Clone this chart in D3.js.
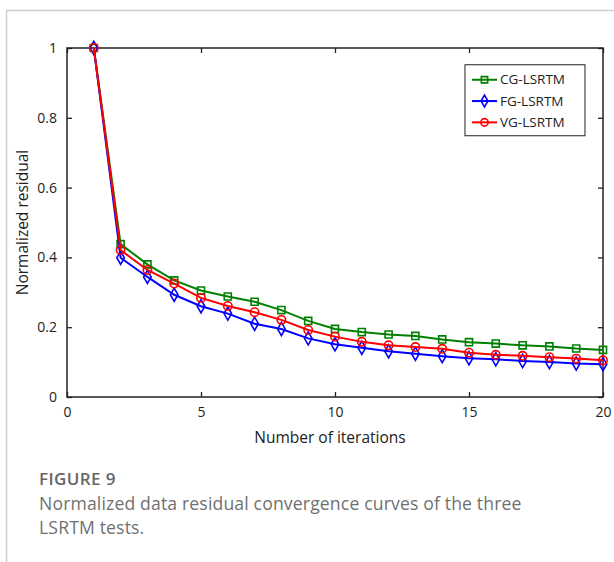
<!DOCTYPE html>
<html>
<head>
<meta charset="utf-8">
<script src="https://cdn.jsdelivr.net/npm/d3@7"></script>
<style>
    body { margin: 0; background: #fff; }
    #chart { width: 614px; height: 562px; }
</style>
</head>
<body>
<div id="chart"></div>
<script>
    // values
    const iterations = d3.range(1, 21);
    const cgValues = [1.0, 0.438, 0.380, 0.334, 0.305, 0.288, 0.273, 0.249, 0.218, 0.195,
        0.186, 0.179, 0.175, 0.165, 0.157, 0.153, 0.148, 0.145, 0.139, 0.135];
    const fgValues = [1.0, 0.399, 0.344, 0.293, 0.260, 0.239, 0.210, 0.195, 0.168, 0.151,
        0.141, 0.131, 0.124, 0.117, 0.111, 0.108, 0.103, 0.100, 0.096, 0.094];
    const vgValues = [1.0, 0.421, 0.364, 0.325, 0.284, 0.261, 0.243, 0.221, 0.192, 0.173,
        0.158, 0.148, 0.143, 0.138, 0.127, 0.121, 0.118, 0.114, 0.110, 0.105];
    const seriesNames = ['CG-LSRTM', 'FG-LSRTM', 'VG-LSRTM'];
    const xTicks = [0, 5, 10, 15, 20];
    const yTicks = [0, 0.2, 0.4, 0.6, 0.8, 1];

    const series = [
        {name: seriesNames[0], values: cgValues, color: '#008000', symbol: d3.symbolSquare, size: 50},
        {name: seriesNames[1], values: fgValues, color: '#0000ff', symbol: d3.symbolDiamond, size: 50},
        {name: seriesNames[2], values: vgValues, color: '#ff0000', symbol: d3.symbolCircle, size: 55}
    ];

    let svgWidth = 614,
        svgHeight = 562,
        margin = {top: 48, right: 11, bottom: 165, left: 67},
        width = svgWidth - margin.left - margin.right,
        height = svgHeight - margin.top - margin.bottom;

    let svg = d3.select('#chart')
        .append('svg')
        .attr('width', svgWidth)
        .attr('height', svgHeight);

    // outer panel border
    svg.append('path')
        .attr('d', 'M6.5,' + svgHeight + 'V10.5H' + svgWidth)
        .attr('fill', 'none')
        .attr('stroke', '#cfcfcf')
        .attr('stroke-width', 1.5);

    let x = d3.scaleLinear().domain([0, 20]).range([0, width]),
        y = d3.scaleLinear().domain([0, 1]).range([height, 0]);

    let g = svg.append('g')
        .attr('transform', 'translate(' + margin.left + ',' + margin.top + ')');

    const tickFont = '"Open Sans", "Noto Sans", sans-serif';

    function styleAxis(sel, hideText) {
        sel.select('.domain').remove();
        sel.selectAll('line').attr('stroke', '#222').attr('stroke-width', 1.3);
        sel.selectAll('text')
            .attr('fill', '#222')
            .style('font-family', tickFont)
            .style('font-size', '14px');
        if (hideText) sel.selectAll('text').remove();
    }

    // ticks point inward
    g.append('g')
        .attr('transform', `translate(0, ${height})`)
        .call(d3.axisBottom(x).tickValues(xTicks).tickSize(-5).tickPadding(10).tickFormat(d3.format('d')))
        .call(styleAxis);
    g.append('g')
        .call(d3.axisTop(x).tickValues(xTicks).tickSize(-5))
        .call(s => styleAxis(s, true));
    g.append('g')
        .call(d3.axisLeft(y).tickValues(yTicks).tickSize(-5).tickPadding(10).tickFormat(d3.format('~g')))
        .call(styleAxis);
    g.append('g')
        .attr('transform', `translate(${width}, 0)`)
        .call(d3.axisRight(y).tickValues(yTicks).tickSize(-5))
        .call(s => styleAxis(s, true));

    g.append('rect')
        .attr('width', width)
        .attr('height', height)
        .attr('fill', 'none')
        .attr('stroke', '#222')
        .attr('stroke-width', 1.5);

    let line = d3.line()
        .x((d, i) => x(iterations[i]))
        .y(d => y(d));

    series.forEach(s => {
        g.append('path')
            .datum(s.values)
            .attr('fill', 'none')
            .attr('stroke', s.color)
            .attr('stroke-width', 2)
            .attr('d', line);

        g.selectAll(null)
            .data(s.values)
            .enter()
            .append('path')
            .attr('transform', (d, i) => `translate(${x(iterations[i])},${y(d)})`)
            .attr('d', d3.symbol().type(s.symbol).size(s.size))
            .attr('fill', 'none')
            .attr('stroke', s.color)
            .attr('stroke-width', 1.6);
    });

    // legend
    let legend = g.append('g')
        .attr('transform', `translate(${x(14.85)}, ${y(0.952)})`);
    legend.append('rect')
        .attr('width', 120)
        .attr('height', 71)
        .attr('fill', '#fff')
        .attr('stroke', '#222')
        .attr('stroke-width', 1);
    series.forEach((s, i) => {
        let row = legend.append('g').attr('transform', `translate(0, ${15 + i * 21.3})`);
        row.append('line')
            .attr('x1', 7).attr('x2', 32)
            .attr('stroke', s.color).attr('stroke-width', 2);
        row.append('path')
            .attr('transform', 'translate(19.5,0)')
            .attr('d', d3.symbol().type(s.symbol).size(s.size * 0.8))
            .attr('fill', 'none')
            .attr('stroke', s.color)
            .attr('stroke-width', 1.6);
        row.append('text')
            .attr('x', 35)
            .attr('dy', '0.35em')
            .attr('fill', '#222')
            .style('font-family', tickFont)
            .style('font-size', '13.5px')
            .text(s.name);
    });

    // axis titles
    svg.append('text')
        .attr('x', 330)
        .attr('y', 443)
        .attr('text-anchor', 'middle')
        .attr('fill', '#222')
        .style('font-family', tickFont)
        .style('font-size', '15.5px')
        .text('Number of iterations');
    svg.append('text')
        .attr('transform', 'translate(28,' + (margin.top + height / 2) + ') rotate(-90)')
        .attr('text-anchor', 'middle')
        .attr('fill', '#222')
        .style('font-family', tickFont)
        .style('font-size', '15.5px')
        .text('Normalized residual');

    // caption
    svg.append('text')
        .attr('x', 39)
        .attr('y', 485)
        .attr('fill', '#666')
        .style('font-family', tickFont)
        .style('font-size', '17px')
        .style('font-weight', 600)
        .style('letter-spacing', '0.4px')
        .text('FIGURE 9');
    ['Normalized data residual convergence curves of the three', 'LSRTM tests.'].forEach((t, i) => {
        svg.append('text')
            .attr('x', 39)
            .attr('y', 510 + i * 24)
            .attr('fill', '#707070')
            .style('font-family', tickFont)
            .style('font-size', '17.6px')
            .style('letter-spacing', '0.15px')
            .text(t);
    });
</script>
</body>
</html>
